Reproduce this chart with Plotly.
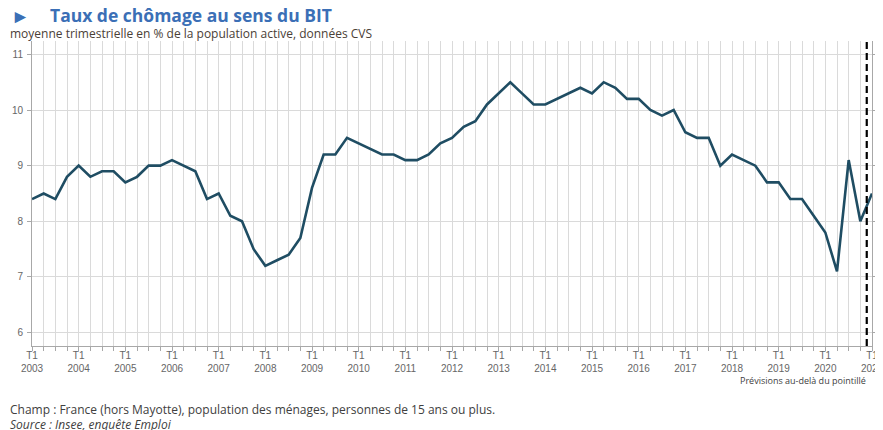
import plotly.graph_objects as go

# quarterly unemployment rate (ILO), % of labour force, SA
years = list(range(2003, 2022))
rates = [
    8.4, 8.5, 8.4, 8.8,   # 2003
    9.0, 8.8, 8.9, 8.9,   # 2004
    8.7, 8.8, 9.0, 9.0,   # 2005
    9.1, 9.0, 8.9, 8.4,   # 2006
    8.5, 8.1, 8.0, 7.5,   # 2007
    7.2, 7.3, 7.4, 7.7,   # 2008
    8.6, 9.2, 9.2, 9.5,   # 2009
    9.4, 9.3, 9.2, 9.2,   # 2010
    9.1, 9.1, 9.2, 9.4,   # 2011
    9.5, 9.7, 9.8, 10.1,  # 2012
    10.3, 10.5, 10.3, 10.1,  # 2013
    10.1, 10.2, 10.3, 10.4,  # 2014
    10.3, 10.5, 10.4, 10.2,  # 2015
    10.2, 10.0, 9.9, 10.0,   # 2016
    9.6, 9.5, 9.5, 9.0,   # 2017
    9.2, 9.1, 9.0, 8.7,   # 2018
    8.7, 8.4, 8.4, 8.1,   # 2019
    7.8, 7.1, 9.1, 8.0,   # 2020
    8.5,                  # 2021 T1
]
y_ticks = [6, 7, 8, 9, 10, 11]
forecast_from = 71.55  # dashed line between 2020 T4 and 2021 T1

quarters = list(range(len(rates)))
year_ticks = [4 * (y - years[0]) for y in years]
year_labels = [f"T1<br>{y}" for y in years]

# page has an 8px body margin; positions below are page pixels
OFF = 8
W, H = 883 - OFF, 430 - OFF
L, R, T, B = 32, 872, 41, 346
def px(x):
    return (x - L) / (R - L)
def py(y):
    return (B - y) / (B - T)

fig = go.Figure()
fig.add_trace(go.Scatter(
    x=quarters, y=rates, mode="lines",
    line=dict(color="#1f4d63", width=2.6), hoverinfo="y",
))

fig.add_shape(type="line", xref="x", yref="paper", x0=forecast_from, x1=forecast_from,
              y0=0, y1=1.0, line=dict(color="black", width=2.2, dash="7px,4px"))

tick_font = dict(family="Liberation Sans, Arial", size=10, color="#666666")
fig.update_layout(
    template="none",
    width=W, height=H,
    margin=dict(l=L - OFF, r=W - (R - OFF), t=T - OFF, b=H - (B - OFF)),
    paper_bgcolor="white", plot_bgcolor="white",
    showlegend=False,
    font=dict(family="Open Sans", color="#404040"),
    xaxis=dict(
        range=[0, 72], tickvals=year_ticks, ticktext=year_labels,
        showgrid=True, gridcolor="#dadada", gridwidth=1,
        minor=dict(dtick=1, showgrid=True, gridcolor="#dadada", ticks="outside",
                   ticklen=4, tickcolor="#a8a8a8"),
        ticks="outside", ticklen=4, tickcolor="#a8a8a8",
        showline=True, linecolor="#a8a8a8", linewidth=1,
        zeroline=False, tickfont=tick_font, automargin=False,
        ticklabelstandoff=-4, ticklabeloverflow="allow",
    ),
    yaxis=dict(
        range=[5.76, 11.24], tickvals=y_ticks,
        showgrid=True, gridcolor="#dadada", gridwidth=1,
        ticks="outside", ticklen=4, tickcolor="#a8a8a8",
        showline=True, linecolor="#a8a8a8", linewidth=1,
        zeroline=False, tickfont=tick_font, automargin=False,
        ticklabelstandoff=2,
    ),
    yaxis2=dict(
        range=[5.76, 11.24], tickvals=y_ticks, overlaying="y", side="right",
        showgrid=False, ticks="outside", ticklen=3, tickcolor="#a8a8a8",
        showline=True, linecolor="#a8a8a8",
        zeroline=False, tickfont=tick_font, automargin=False,
        ticklabeloverflow="allow",
    ),
)
# invisible companion so that the right axis is drawn
fig.add_trace(go.Scatter(x=quarters, y=rates, yaxis="y2", mode="lines",
                         line=dict(width=0), hoverinfo="skip", opacity=0))

notes = [
    dict(x=px(9), y=py(16), text="►", font=dict(size=19, color="#3b6fb6")),
    dict(x=px(48), y=py(15), text="<b>Taux de chômage au sens du BIT</b>",
         font=dict(size=17.5, color="#3b6fb6")),
    dict(x=px(8), y=py(33), text="moyenne trimestrielle en % de la population active, données CVS",
         font=dict(size=12, color="#4a4036")),
    dict(x=px(8), y=py(409),
         text="Champ : France (hors Mayotte), population des ménages, personnes de 15 ans ou plus.",
         font=dict(size=12, color="#404040")),
    dict(x=px(8), y=py(424), text="<i>Source : Insee, enquête Emploi</i>",
         font=dict(size=12, color="#404040")),
]
for n in notes:
    fig.add_annotation(xref="paper", yref="paper", xanchor="left", yanchor="middle",
                       showarrow=False, **n)
fig.add_annotation(xref="paper", yref="paper", x=px(868), y=py(380), xanchor="right",
                   yanchor="middle", showarrow=False, text="Prévisions au-delà du pointillé",
                   font=dict(family="Open Sans", size=9, color="#404040"))

fig.write_html("out.html")
